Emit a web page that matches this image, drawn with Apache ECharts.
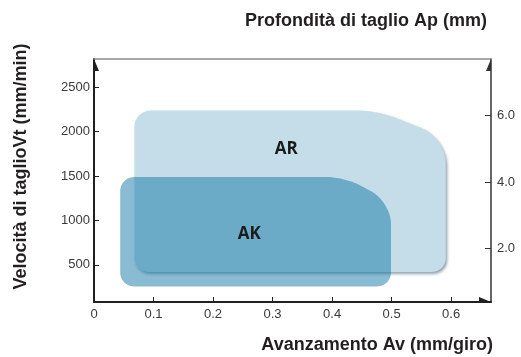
<!DOCTYPE html>
<html>
<head>
<meta charset="utf-8">
<script src="https://cdn.jsdelivr.net/npm/echarts@6/dist/echarts.min.js"></script>
<style>
html,body{margin:0;padding:0;background:#fff;}
#chart{width:521px;height:357px;}
</style>
</head>
<body>
<div id="chart"></div>
<script>
// ---- data ----
const feedTicks = [0, 0.1, 0.2, 0.3, 0.4, 0.5, 0.6];        // Avanzamento Av (mm/giro)
const speedTicks = [500, 1000, 1500, 2000, 2500];            // Velocità di taglio Vt (mm/min)
const depthTicks = [2, 4, 6];                                // Profondità di taglio Ap (mm)
const regionNames = ['AR', 'AK'];
// region outlines (feed, speed) : bottom-left, top-left, chamfer start, chamfer end, bottom-right
const arFeed  = [0.068, 0.068, 0.476, 0.591, 0.591];
const arSpeed = [418, 2238, 2238, 1933, 418];
const akFeed  = [0.044, 0.044, 0.421, 0.499, 0.499];
const akSpeed = [255, 1490, 1490, 1207, 255];
// label anchor of each region
const labelFeed  = [0.323, 0.261];
const labelSpeed = [1801, 842];

// ---- styles ----
const cornerRadii = [[14, 16, 18, 26, 14], [14, 14, 18, 22, 14]];
const regionStyles = [
  { fill: '#c5dde9', shadowBlur: 3, shadowOffsetX: 1.5, shadowOffsetY: 2, shadowColor: 'rgba(40,70,95,0.5)' },
  { fill: 'rgba(19,121,167,0.5)' }
];

function roundedPoints(pts, radii) {
  const out = [];
  const n = pts.length;
  for (let i = 0; i < n; i++) {
    const V = pts[i], P = pts[(i - 1 + n) % n], N = pts[(i + 1) % n];
    const l1 = Math.hypot(P[0] - V[0], P[1] - V[1]);
    const l2 = Math.hypot(N[0] - V[0], N[1] - V[1]);
    const d = Math.min(radii[i], l1 / 2, l2 / 2);
    const T1 = [V[0] + (P[0] - V[0]) / l1 * d, V[1] + (P[1] - V[1]) / l1 * d];
    const T2 = [V[0] + (N[0] - V[0]) / l2 * d, V[1] + (N[1] - V[1]) / l2 * d];
    const k = 0.5523;
    const C1 = [T1[0] + (V[0] - T1[0]) * k, T1[1] + (V[1] - T1[1]) * k];
    const C2 = [T2[0] + (V[0] - T2[0]) * k, T2[1] + (V[1] - T2[1]) * k];
    const steps = 10;
    for (let s = 0; s <= steps; s++) {
      const t = s / steps, u = 1 - t;
      out.push([
        u*u*u*T1[0] + 3*u*u*t*C1[0] + 3*u*t*t*C2[0] + t*t*t*T2[0],
        u*u*u*T1[1] + 3*u*u*t*C1[1] + 3*u*t*t*C2[1] + t*t*t*T2[1]
      ]);
    }
  }
  return out;
}

function makeRegionSeries(idx, feed, speed) {
  return {
    type: 'custom',
    xAxisIndex: 0,
    yAxisIndex: 0,
    clip: false,
    z: 2 + idx,
    data: feed.map((f, i) => [f, speed[i]]),
    renderItem: function (params, api) {
      if (params.dataIndex !== 0) return null;
      const pts = feed.map((f, i) => api.coord([f, speed[i]]));
      const lp = api.coord([labelFeed[idx], labelSpeed[idx]]);
      return {
        type: 'group',
        children: [
          { type: 'polygon', shape: { points: roundedPoints(pts, cornerRadii[idx]) }, style: regionStyles[idx] },
          { type: 'text', x: lp[0], y: lp[1], z2: 10,
            style: { text: regionNames[idx], font: 'bold 17px "Open Sans", "Liberation Sans", sans-serif',
                     fill: '#1b1b1b', align: 'center', verticalAlign: 'middle' } }
        ]
      };
    }
  };
}

const darkAxis = '#231f20';
const tickFont = { fontFamily: 'Liberation Sans, Arial, sans-serif', fontSize: 13, color: '#3a3a3a' };
const titleFont = { fontFamily: 'Liberation Sans, Arial, sans-serif', fontSize: 18, fontWeight: 'bold', color: '#231f20' };
const arrowUpRight = 'path://M-5,12 M0,0 L0,12 L5,12 Z';
const arrowUpLeft = 'path://M5,12 M0,0 L0,12 L-5,12 Z';

const chart = echarts.init(document.getElementById('chart'), null, { renderer: 'canvas' });
chart.setOption({
  animation: false,
  backgroundColor: '#ffffff',
  grid: { left: 94, right: 30, top: 59, bottom: 55, containLabel: false },
  xAxis: [
    {
      type: 'value', position: 'bottom', min: 0, max: 0.667,
      name: 'Avanzamento Av (mm/giro)', nameLocation: 'end', nameGap: 2,
      nameTextStyle: Object.assign({}, titleFont, { align: 'right', verticalAlign: 'top', padding: [34, 0, 0, 0] }),
      splitLine: { show: false },
      axisLine: { show: true, onZero: false, lineStyle: { color: darkAxis, width: 2 },
                  symbol: ['none', arrowUpLeft], symbolSize: [10, 12], symbolOffset: [0, -6] },
      axisTick: { show: true, inside: true, length: 5, lineStyle: { color: darkAxis, width: 1 },
                  customValues: feedTicks.filter(v => v > 0) },
      axisLabel: Object.assign({}, tickFont, { margin: 6, customValues: feedTicks,
                  formatter: v => (v === 0 ? '0' : v.toFixed(1)) })
    },
    {
      type: 'value', position: 'top', min: 0, max: 0.667,
      splitLine: { show: false },
      axisLine: { show: true, onZero: false, lineStyle: { color: '#8a8a8a', width: 1.5 } },
      axisTick: { show: false }, axisLabel: { show: false }
    }
  ],
  yAxis: [
    {
      type: 'value', position: 'left', min: 80, max: 2820,
      name: 'Velocità di taglioVt (mm/min)', nameLocation: 'middle', nameGap: 64, nameRotate: 90,
      nameTextStyle: Object.assign({}, titleFont, { padding: [0, 0, 0, 28] }),
      splitLine: { show: false },
      axisLine: { show: true, onZero: false, lineStyle: { color: darkAxis, width: 2 },
                  symbol: ['none', arrowUpRight], symbolSize: [10, 12], symbolOffset: [0, -6] },
      axisTick: { show: true, inside: true, length: 5, lineStyle: { color: darkAxis, width: 1 },
                  customValues: speedTicks },
      axisLabel: Object.assign({}, tickFont, { margin: 4, customValues: speedTicks,
                  formatter: v => String(v) })
    },
    {
      type: 'value', position: 'right', min: 0.4, max: 7.7,
      name: 'Profondità di taglio Ap (mm)', nameLocation: 'end', nameGap: 29,
      nameTextStyle: Object.assign({}, titleFont, { align: 'right', verticalAlign: 'bottom', padding: [0, 4, 0, 0] }),
      splitLine: { show: false },
      axisLine: { show: true, onZero: false, lineStyle: { color: '#333333', width: 1.5 },
                  symbol: ['none', arrowUpLeft], symbolSize: [10, 12], symbolOffset: [0, -6] },
      axisTick: { show: true, inside: true, length: 6, lineStyle: { color: '#333333', width: 1 },
                  customValues: depthTicks },
      axisLabel: Object.assign({}, tickFont, { margin: 6, customValues: depthTicks,
                  formatter: v => v.toFixed(1) })
    }
  ],
  series: [
    makeRegionSeries(0, arFeed, arSpeed),
    makeRegionSeries(1, akFeed, akSpeed)
  ]
});
</script>
</body>
</html>
